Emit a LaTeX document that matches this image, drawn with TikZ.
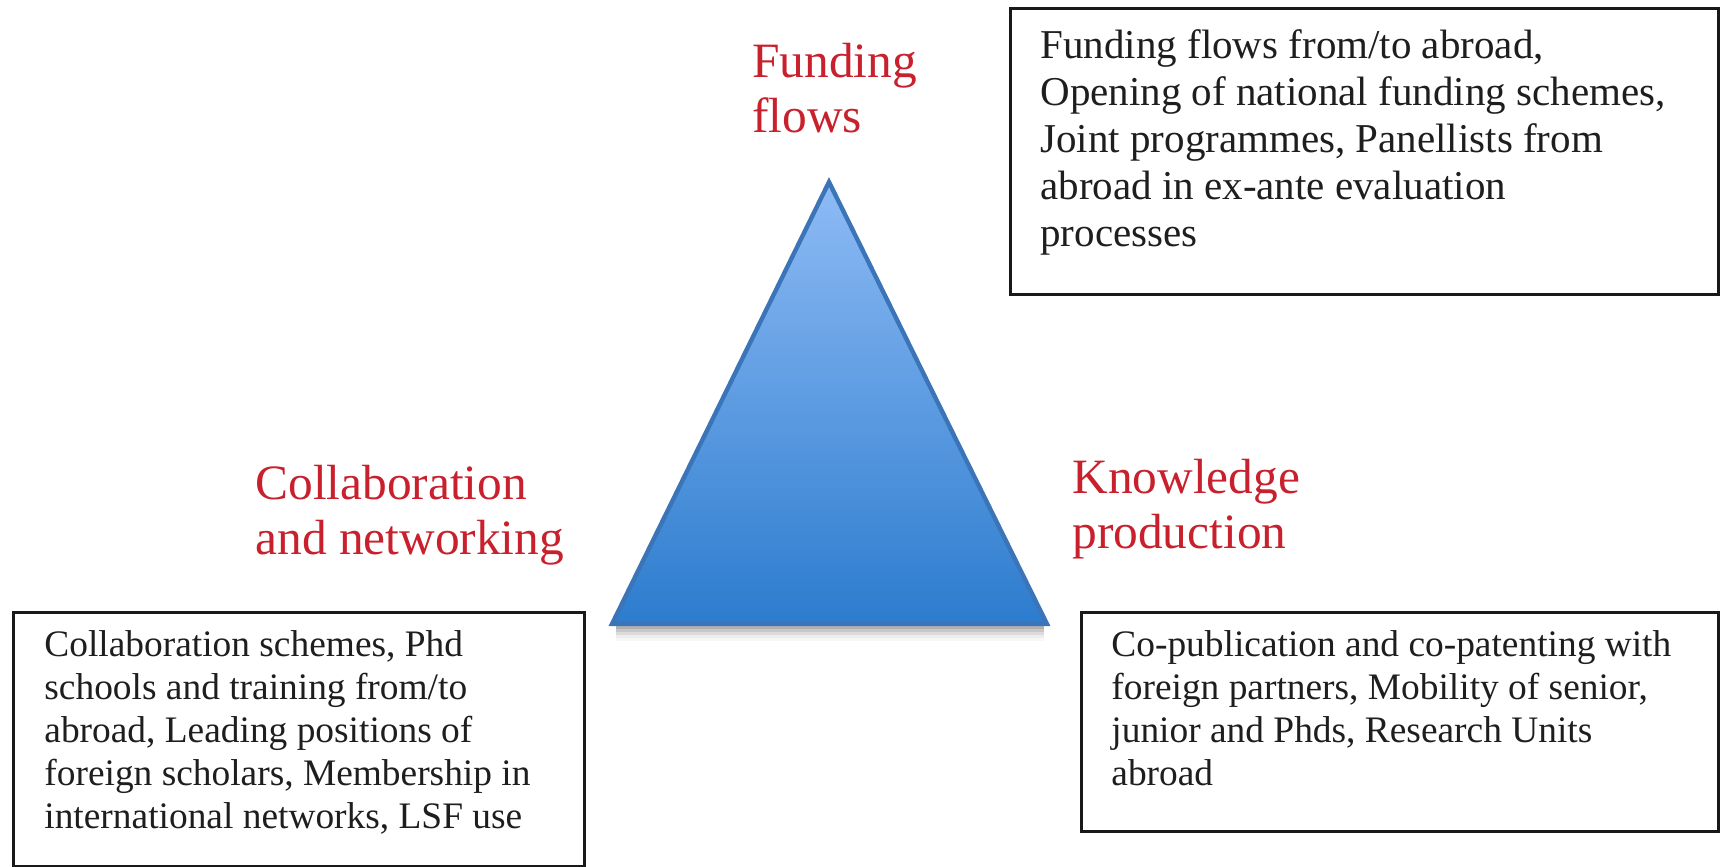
\documentclass[tikz,border=0pt]{standalone}
\usepackage{fontspec}
\setmainfont{Liberation Serif}
\definecolor{labelred}{RGB}{200,32,44}
\definecolor{triTop}{RGB}{142,187,245}
\definecolor{triBot}{RGB}{44,124,206}
\definecolor{triEdge}{RGB}{60,116,184}
\definecolor{boxtextcol}{RGB}{30,30,30}
\tikzset{
  lbl/.style={anchor=north west, inner sep=0pt, align=left, text=labelred,
    font=\fontsize{24.7}{27.5}\selectfont},
  bigtext/.style={anchor=north west, inner sep=0pt, align=left, text=boxtextcol,
    font=\fontsize{20.5}{23.5}\selectfont},
  smalltext/.style={anchor=north west, inner sep=0pt, align=left, text=boxtextcol,
    font=\fontsize{18.7}{21.5}\selectfont},
  boxframe/.style={draw=black!90, line width=1.5pt},
  tri/.style={draw=triEdge, line width=2.2pt, line join=miter,
    top color=triTop, bottom color=triBot}
}
\begin{document}
\begin{tikzpicture}[x=0.5pt,y=-0.5pt]
\useasboundingbox (0,0) rectangle (1721,867);
% shadow under triangle base
\foreach \d/\o in {3/0.30,6/0.22,9/0.14,12/0.07,15/0.03}{
  \draw[black, opacity=\o, line width=1.5pt] (616,624+\d) -- (1044,624+\d);
}
% triangle
\path[tri] (829,182) -- (1047,624) -- (612,624) -- cycle;
% boxes
\draw[boxframe] (1010,8) rectangle (1718,294);
\draw[boxframe] (13,612) rectangle (584,866);
\draw[boxframe] (1081,612) rectangle (1718,831);
% labels
\node[lbl] (funding) at (752,43) {Funding\\flows};
\node[lbl] (collab) at (255,465) {Collaboration\\and networking};
\node[lbl] (knowledge) at (1072,459) {Knowledge\\production};
% box texts
\node[bigtext] (fundtext) at (1040,29) {Funding flows from/to abroad,\\Opening of national funding schemes,\\Joint programmes, Panellists from\\abroad in ex-ante evaluation\\processes};
\node[smalltext] (collabtext) at (44,630) {Collaboration schemes, Phd\\schools and training from/to\\abroad, Leading positions of\\foreign scholars, Membership in\\international networks, LSF use};
\node[smalltext] (knowtext) at (1111,630) {Co-publication and co-patenting with\\foreign partners, Mobility of senior,\\junior and Phds, Research Units\\abroad};
\end{tikzpicture}
\end{document}
